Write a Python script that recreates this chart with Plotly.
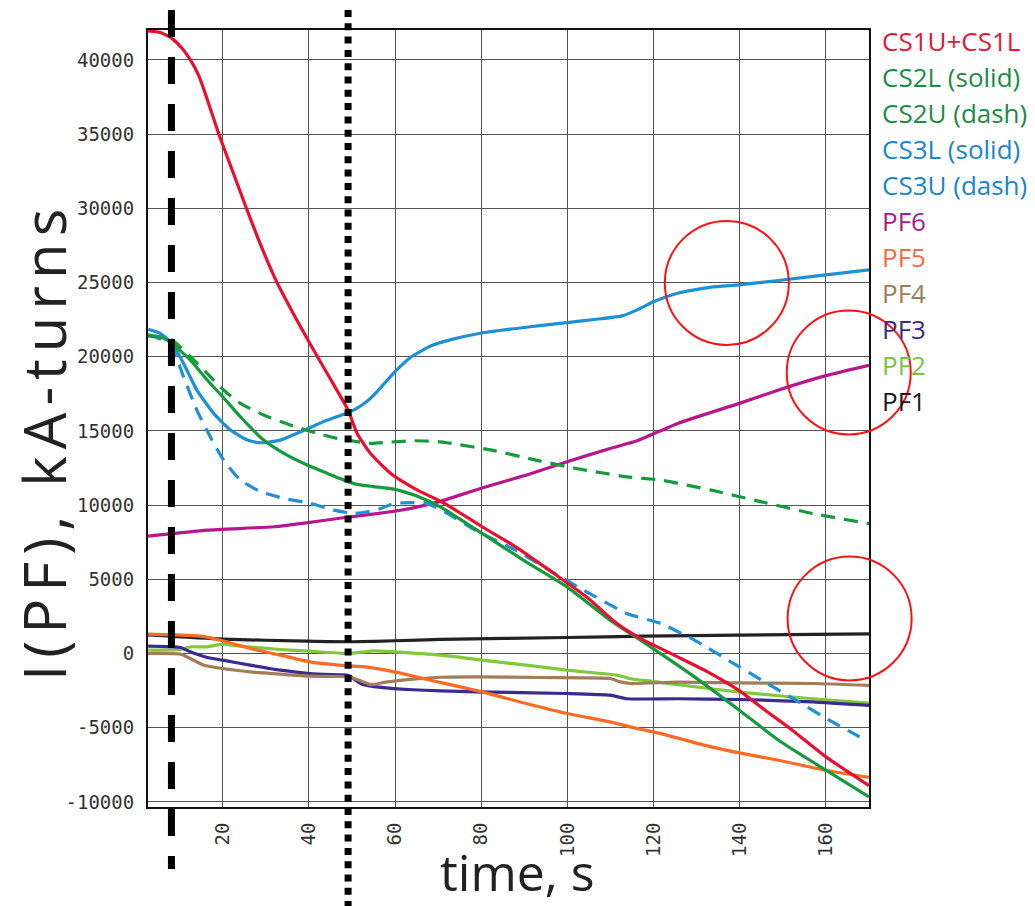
import plotly.graph_objects as go

# ---------------- data ----------------
t_cs1 = [2.7, 5.5, 8.2, 10.5, 12.5, 14.5, 16.8, 19.1, 22.3, 25.5, 29, 32.6, 36.4, 40.2, 44.6, 49.1, 51.2, 54.3, 59,
         62, 65.2, 70.8, 75.5, 80.2, 88, 95.8, 104.4, 111.5, 117.7, 125.6, 131.8, 139.7, 145.9, 152.2, 160, 170]
cs1 = [41950, 41850, 41450, 40800, 40000, 38900, 37000, 35000, 32500, 30000, 27400, 25000, 22900, 20900, 18700, 16400,
       14830, 13480, 12135, 11550, 11010, 10224, 9400, 8540, 7190, 5618, 3820, 2022, 900, -225, -1124, -2470, -3820,
       -5168, -6966, -8900]

t_cs2l = [2.7, 5.5, 8.2, 12.5, 16.4, 20, 24.1, 29.5, 34.2, 39.6, 44.3, 49.1, 51.2, 55, 59.8, 65.2, 70.7, 80.2, 90.4,
          99.9, 109.9, 119.3, 129.5, 139.9, 149, 160, 170]
cs2l = [21393, 21350, 20900, 19775, 18430, 17300, 15955, 14380, 13484, 12697, 12135, 11573, 11394, 11250, 11080, 10600,
        9850, 8090, 6180, 4494, 2247, 450, -1573, -3820, -5842, -7865, -9662]

t_cs2u = [2.7, 8.2, 12.5, 16.4, 20.2, 24.1, 29.5, 35.7, 41.9, 47.3, 54.4, 59, 64.5, 70, 73.1, 82.5, 92.7, 102.1,
          113.8, 121.7, 133.4, 145.1, 156.9, 170]
cs2u = [21460, 21124, 20000, 18876, 17753, 16854, 16068, 15394, 14832, 14450, 14155, 14250, 14335, 14280, 14155,
        13705, 13030, 12468, 11905, 11680, 11005, 10218, 9430, 8755]

t_cs3l = [2.7, 5.5, 8.2, 10.9, 14, 17.9, 21.8, 25.7, 28.8, 33.4, 38.1, 44.3, 49.1, 51, 53.5, 56, 59.5, 63.8, 68.5, 73,
          79.8, 90.4, 99.9, 106.8, 112.7, 116.2, 120.1, 125.6, 133.4, 139.9, 149, 160, 170]
cs3l = [21840, 21570, 20900, 19550, 17750, 16180, 15060, 14380, 14200, 14380, 14940, 15730, 16225, 16500, 17000, 17700,
        18850, 20000, 20750, 21150, 21580, 21985, 22300, 22525, 22750, 23155, 23718, 24280, 24685, 24843, 25135, 25518,
        25855]

t_cs3u = [2.7, 5.5, 8.2, 10.9, 14, 17.1, 20.2, 24.1, 28.8, 34.2, 40.4, 45.8, 50.5, 53.6, 56.7, 59.8, 64.5, 67, 70.8,
          78.6, 88, 95.8, 103.7, 113.8, 121.7, 129.5, 137.3, 145.1, 153, 160.8, 167.8]
cs3u = [21460, 21200, 20674, 18650, 16405, 14607, 13034, 11686, 10900, 10450, 10113, 9664, 9440, 9550, 9776, 10110,
        10160, 10150, 9662, 8314, 6966, 5618, 4270, 2696, 2022, 899, -449, -1798, -3146, -4494, -5618]

t_pf6 = [2.7, 16.4, 31.9, 41.2, 48, 59, 64, 70.5, 79.8, 90.4, 99.9, 109.9, 116.2, 125.6, 139.9, 149, 160, 170]
pf6 = [7911, 8315, 8540, 8877, 9150, 9550, 9800, 10250, 11118, 12018, 12918, 13818, 14335, 15505, 16855, 17755, 18723,
       19420]

t_pf5 = [2.7, 8.2, 14.8, 20, 26.4, 33.4, 40.2, 47, 53.6, 59.8, 70.7, 80.2, 90.4, 99.9, 109.9, 116.2, 121.7, 133.4,
         139.9, 149, 160, 170]
pf5 = [1305, 1260, 1170, 855, 337, -112, -560, -780, -920, -1237, -1960, -2584, -3370, -4045, -4606, -5056, -5400,
       -6292, -6700, -7190, -7870, -8350]

t_pf4 = [2.7, 10.2, 12.5, 15.6, 20, 26.4, 33.4, 40.2, 47.3, 49.1, 51.2, 54.4, 57.4, 62.9, 70.6, 78.6, 94.3, 109.9,
         112.3, 114.6, 125.6, 139.9, 156.9, 170]
pf4 = [0, -45, -337, -787, -1012, -1237, -1395, -1530, -1550, -1575, -1753, -2100, -1950, -1755, -1600, -1573, -1618,
       -1685, -1910, -2022, -1930, -1980, -2022, -2150]

t_pf3 = [2.7, 10.2, 12.5, 16.4, 20, 26.4, 33.4, 40.2, 47.3, 49.1, 52, 54.4, 59.8, 63, 70.6, 78.6, 99.9, 109.9, 113.8,
         125.6, 139.9, 156.9, 170]
pf3 = [495, 405, 112, -270, -450, -787, -1125, -1350, -1440, -1470, -2022, -2200, -2362, -2427, -2520, -2584, -2696,
       -2809, -3050, -3050, -3100, -3258, -3500]

t_pf2 = [2.7, 10.2, 12.5, 16.4, 20, 24.1, 33.4, 40.2, 49.1, 55.1, 59.8, 70.7, 80.2, 90.4, 99.9, 111.5, 114.6, 120,
         125.6, 139.9, 156.9, 170]
pf2 = [225, 270, 450, 450, 630, 495, 270, 157, 0, 180, 112, -112, -449, -786, -1124, -1460, -1700, -1880, -2100, -2600,
       -3050, -3350]

t_pf1 = [2.7, 20, 39.6, 50, 60, 70.6, 99.9, 117.7, 139.9, 170]
pf1 = [1250, 967, 832, 790, 860, 945, 1079, 1168, 1236, 1320]

legend_labels = ["CS1U+CS1L", "CS2L (solid)", "CS2U (dash)", "CS3L (solid)", "CS3U (dash)",
                 "PF6", "PF5", "PF4", "PF3", "PF2", "PF1"]
legend_colors = ["#e3173b", "#1b8c45", "#1b8c45", "#1a86c9", "#1a86c9",
                 "#a61d8c", "#f26d3d", "#9c7d5a", "#3c2a85", "#7cc242", "#1a1a1a"]

x_ticks = [20, 40, 60, 80, 100, 120, 140, 160]
y_ticks = [-10000, -5000, 0, 5000, 10000, 15000, 20000, 25000, 30000, 35000, 40000]

t_dashed_marker = 8.1     # vertical dashed marker, s
t_dotted_marker = 49.1    # vertical dotted marker, s
circle_centers = [(137.0, 24970), (165.3, 18940), (165.5, 2360)]

X_RANGE = [2.66, 170.0]
Y_RANGE = [-10344, 42015]

# ---------------- figure ----------------
W, H = 1035, 906
ML, MR, MT, MB = 148, 166, 30, 99
PW, PH = W - ML - MR, H - MT - MB

fig = go.Figure()


def add(t, v, color, dash="solid", name=""):
    fig.add_trace(go.Scatter(x=t, y=v, mode="lines", name=name, hoverinfo="skip",
                             line=dict(color=color, width=3.2, dash=dash, shape="spline", smoothing=0.5)))


DASH = "14px,9px"
add(t_pf1, pf1, "#222222", name="PF1")
add(t_pf2, pf2, "#80c83c", name="PF2")
add(t_pf3, pf3, "#3b2a90", name="PF3")
add(t_pf4, pf4, "#a27d5a", name="PF4")
add(t_pf5, pf5, "#f96a22", name="PF5")
add(t_pf6, pf6, "#b8168f", name="PF6")
add(t_cs3u, cs3u, "#1e90d6", DASH, name="CS3U")
add(t_cs3l, cs3l, "#1e90d6", name="CS3L")
add(t_cs2u, cs2u, "#169b3c", DASH, name="CS2U")
add(t_cs2l, cs2l, "#169b3c", name="CS2L")
add(t_cs1, cs1, "#e8102e", name="CS1U+CS1L")


def px_to_paper_y(py):
    return (H - MB - py) / PH


shapes = []
# vertical markers (extend beyond the plot vertically)
shapes.append(dict(type="line", xref="x", yref="paper", x0=t_dashed_marker, x1=t_dashed_marker,
                   y0=px_to_paper_y(10), y1=px_to_paper_y(869),
                   line=dict(color="black", width=7, dash="27px,20px")))
shapes.append(dict(type="line", xref="x", yref="paper", x0=t_dotted_marker, x1=t_dotted_marker,
                   y0=px_to_paper_y(10), y1=px_to_paper_y(906),
                   line=dict(color="black", width=7, dash="7px,6.3px")))
# red highlight circles
R = 62
for cx, cy in circle_centers:
    xp = (cx - X_RANGE[0]) / (X_RANGE[1] - X_RANGE[0])
    yp = (cy - Y_RANGE[0]) / (Y_RANGE[1] - Y_RANGE[0])
    shapes.append(dict(type="circle", xref="paper", yref="paper",
                       x0=xp - R / PW, x1=xp + R / PW, y0=yp - R / PH, y1=yp + R / PH,
                       line=dict(color="#ff1010", width=2)))

annotations = []
for i, (lab, col) in enumerate(zip(legend_labels, legend_colors)):
    py = 41 + 36 * i
    annotations.append(dict(xref="paper", yref="paper", x=(880 - ML) / PW, y=px_to_paper_y(py),
                            xanchor="left", yanchor="middle", showarrow=False, text=lab,
                            font=dict(family="Open Sans", size=26, color=col)))
annotations.append(dict(xref="paper", yref="paper", x=(517 - ML) / PW, y=px_to_paper_y(872),
                        xanchor="center", yanchor="middle", showarrow=False, text="time, s",
                        font=dict(family="Open Sans", size=50, color="#222222")))
annotations.append(dict(xref="paper", yref="paper", x=(43 - ML) / PW, y=px_to_paper_y(442),
                        xanchor="center", yanchor="middle", showarrow=False,
                        text='<span style="letter-spacing:7px">I(PF), kA-turns</span>',
                        textangle=-90, font=dict(family="Open Sans", size=58, color="#222222")))

tickfont = dict(family="DejaVu Sans Mono", size=19, color="#333333")
fig.update_layout(
    width=W, height=H, margin=dict(l=ML, r=MR, t=MT, b=MB),
    paper_bgcolor="white", plot_bgcolor="white", showlegend=False,
    shapes=shapes, annotations=annotations,
    xaxis=dict(range=X_RANGE, tickvals=x_ticks, ticktext=[str(v) for v in x_ticks], tickangle=-90,
               showgrid=True, gridcolor="#555555", gridwidth=1.4, zeroline=False,
               showline=True, linecolor="#111111", linewidth=2, mirror=True,
               ticks="outside", ticklen=6, tickcolor="rgba(0,0,0,0)", tickfont=tickfont),
    yaxis=dict(range=Y_RANGE, tickvals=y_ticks, ticktext=[str(v) for v in y_ticks],
               showgrid=True, gridcolor="#555555", gridwidth=1.4, zeroline=False,
               showline=True, linecolor="#111111", linewidth=2, mirror=True,
               ticks="outside", ticklen=8, tickcolor="rgba(0,0,0,0)", tickfont=tickfont),
)

fig.write_html("out.html")
